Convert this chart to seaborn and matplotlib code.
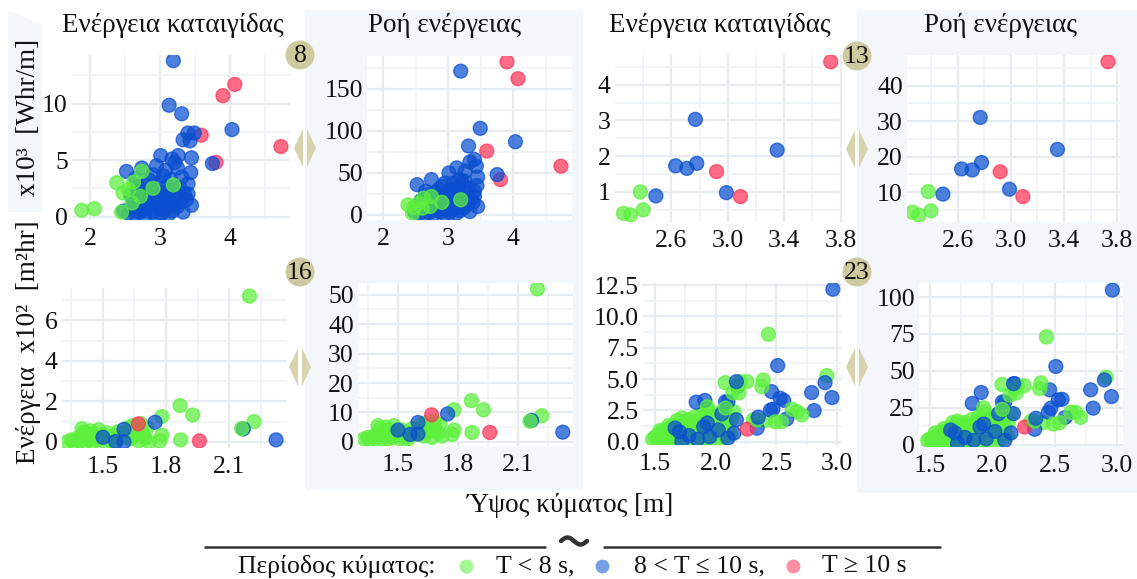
import numpy as np
import pandas as pd
import matplotlib
matplotlib.use("Agg")
import matplotlib.pyplot as plt
import seaborn as sns
from matplotlib.patches import Polygon, Circle, Rectangle
from matplotlib.ticker import FixedLocator, FormatStrFormatter

# ---------------- data ----------------
# station 8 : wave height, storm energy (x10^3), energy flux, period class
hs8 = [3.90, 4.07, 4.73, 3.59, 3.80,
       3.19, 3.13, 3.31, 4.03, 3.75, 3.49, 3.40, 3.33, 3.43, 3.45, 3.26, 3.01, 3.17, 3.21, 2.95,
       2.52, 2.74, 3.44, 3.05, 3.31, 3.40,
       2.48, 2.55, 2.60, 2.62, 2.65, 2.70, 2.72, 2.75, 2.78, 2.80, 2.82, 2.85, 2.88, 2.90, 2.92,
       2.95, 2.97, 3.00, 3.00, 3.02, 3.05, 3.07, 3.10, 3.10, 3.12, 3.15, 3.15, 3.18, 3.20, 3.22,
       3.25, 3.28, 3.30, 3.33, 3.35, 3.38, 3.40, 3.45, 2.68, 2.58, 2.85, 3.08, 2.90, 3.25, 2.65,
       2.78, 2.95, 3.12, 2.70, 3.05, 2.85, 3.20,
       1.88, 2.06, 2.38, 2.47, 2.62, 2.74, 2.90, 3.19, 2.45, 2.60, 2.72, 2.55]
storm8 = [10.7, 11.7, 6.2, 7.2, 4.8,
          13.8, 9.85, 9.1, 7.7, 4.7, 7.4, 7.4, 6.8, 6.7, 5.2, 5.4, 5.4, 5.1, 4.8, 4.5,
          4.0, 4.3, 3.9, 3.6, 3.5, 2.0,
          0.5, 0.3, 0.8, 1.5, 0.2, 1.0, 2.2, 0.5, 1.6, 2.8, 0.9, 1.9, 0.4, 1.3, 2.4,
          0.7, 1.8, 3.0, 1.1, 0.3, 2.1, 1.5, 0.8, 2.7, 1.9, 1.2, 3.3, 0.5, 2.3, 1.6,
          0.9, 2.6, 1.3, 0.4, 2.0, 1.5, 2.9, 1.0, 2.6, 1.9, 3.2, 4.1, 3.7, 4.3, 3.4,
          0.1, 0.1, 0.2, 0.4, 0.6, 1.1, 1.0,
          0.56, 0.70, 3.0, 2.1, 3.05, 4.0, 2.5, 2.8, 0.4, 1.2, 1.8, 2.4]
flux8 = [182, 162, 58, 76, 42,
         171, 56, 82, 87, 48, 103, 66, 63, 58, 45, 52, 50, 42, 40, 38,
         36, 42, 35, 30, 32, 22,
         4, 2, 8, 14, 1, 9, 20, 5, 15, 27, 8, 18, 4, 12, 23,
         6, 17, 29, 10, 3, 21, 14, 8, 26, 18, 12, 31, 5, 22, 16,
         9, 25, 13, 4, 19, 15, 28, 10, 24, 17, 30, 38, 34, 40, 28,
         1, 1, 2, 3, 6, 10, 9,
         np.nan, np.nan, 12, 9, 20, 22, 15, 18, 2, 8, 10, 14]
per8 = list("RRRRR" + "B" * 21 + "B" * 52 + "G" * 12)

# station 13
hs13 = [2.26, 2.31, 2.38, 2.40, 2.49, 2.63, 2.71, 2.77, 2.78, 2.92, 2.99, 3.09, 3.35, 3.73]
storm13 = [0.40, 0.36, 1.00, 0.50, 0.89, 1.73, 1.66, 3.03, 1.80, 1.57, 0.98, 0.87, 2.17, 4.64]
flux13 = [4.3, 3.5, 10.1, 4.7, 9.4, 16.5, 16.2, 31.0, 18.3, 15.7, 10.8, 8.7, 22.0, 46.7]
per13 = list("GGGGBBBBBRBRBR")

# station 16 (storm energy x10^2)
hs16 = [1.33, 1.35, 1.36, 1.38, 1.39, 1.40, 1.41, 1.42, 1.43, 1.44, 1.45, 1.46, 1.47, 1.48,
        1.50, 1.51, 1.52, 1.53, 1.55, 1.57, 1.58, 1.60, 1.62, 1.63, 1.64, 1.65, 1.66, 1.67,
        1.68, 1.69, 1.70, 1.71, 1.72, 1.45, 1.40, 1.55, 1.62,
        1.60, 1.60, 1.50, 1.56,
        2.197, 1.867, 1.927, 1.78, 1.748, 1.668, 2.219, 2.168, 2.16, 2.324, 1.959, 1.87,
        1.78, 1.77]
storm16 = [0.0, 0.1, 0.0, 0.2, 0.05, 0.3, 0.5, 0.0, 0.15, 0.55, 0.0, 0.25, 0.1, 0.6,
           0.35, 0.0, 0.45, 0.1, 0.3, 0.5, 0.2, 0.4, 0.7, 0.15, 0.8, 0.3, 0.6, 0.05,
           0.9, 0.4, 0.2, 0.7, 0.0, 0.4, 0.65, 0.0, 0.25,
           0.62, 0.0, 0.23, 0.02,
           7.19, 1.79, 1.33, 1.25, 0.97, 0.89, 1.0, 0.64, 0.66, 0.1, 0.05, 0.1,
           0.33, 0.05]
flux16 = [1.0, 1.5, 0.8, 2.0, 1.2, 2.5, 4.5, 1.0, 2.0, 5.0, 1.0, 3.0, 1.5, 5.5,
          3.5, 1.0, 4.0, 1.5, 3.0, 4.5, 2.5, 4.0, 6.0, 2.0, 6.5, 3.5, 5.5, 1.5,
          7.0, 4.0, 3.0, 6.0, 2.0, 4.0, 5.5, 1.0, 3.0,
          6.6, 2.7, 4.0, 2.5,
          52.0, 14.0, 10.9, 10.9, 9.5, 9.2, 8.9, 7.3, 7.0, 3.3, 3.2, 3.2,
          4.0, 2.5]
per16 = list("G" * 37 + "BBBB" + "GGGGBRGBGBRG" + "GG")

# station 23
hs23 = [1.48, 1.50, 1.52, 1.53, 1.55, 1.56, 1.57, 1.58, 1.60, 1.60, 1.62, 1.63, 1.64, 1.65,
        1.66, 1.67, 1.68, 1.69, 1.70, 1.71, 1.72, 1.73, 1.74, 1.75, 1.76, 1.77, 1.78, 1.79,
        1.80, 1.81, 1.82, 1.83, 1.84, 1.85, 1.86, 1.87, 1.88, 1.89, 1.90, 1.91, 1.92, 1.93,
        1.94, 1.95, 1.96, 1.97, 1.98, 1.99, 2.00, 2.01, 2.02, 2.03, 2.05, 2.06, 2.08, 2.09,
        2.10, 2.12, 2.13, 2.15, 1.58, 1.62, 1.70, 1.76, 1.81, 1.88, 1.95, 2.05, 1.54, 1.61,
        1.68, 1.72,
        1.665, 1.72, 1.78, 1.85, 1.95, 1.90, 2.10, 1.70, 1.838, 1.91, 1.93, 2.02, 2.05, 2.10,
        2.15, 2.17, 2.18, 2.08,
        1.93, 2.08, 2.077, 2.14, 2.20, 2.18, 2.256, 2.19, 2.31,
        2.965, 2.434, 2.51, 2.915, 2.90, 2.957, 2.79, 2.81, 2.71, 2.67, 2.585, 2.54, 2.53,
        2.56, 2.46, 2.39, 2.38, 2.47, 2.41, 2.34, 2.26, 2.34, 2.17, 2.35, 2.45, 2.63, 2.49]
storm23 = [0.2, 0.4, 0.1, 0.6, 0.3, 0.8, 0.15, 0.5, 1.0, 0.2, 0.7, 0.35, 1.2, 0.1,
           0.9, 0.5, 1.4, 0.25, 0.7, 1.1, 0.4, 1.6, 0.15, 0.9, 1.3, 0.55, 1.8, 0.3,
           1.0, 1.5, 0.6, 2.0, 0.2, 1.2, 0.8, 1.7, 0.4, 2.2, 1.0, 0.6, 1.4, 2.6,
           0.3, 1.8, 0.9, 1.2, 0.5, 2.0, 1.5, 0.7, 1.1, 2.3, 0.4, 1.6, 0.9, 2.1,
           1.3, 0.6, 1.8, 2.4, 0.0, 0.05, 0.0, 0.05, 0.1, 0.0, 0.1, 0.1, 0.9, 1.3,
           1.7, 1.9,
           1.1, 0.0, 0.5, 0.2, 0.4, 1.2, 0.3, 0.8, 3.16, 3.3, 1.5, 0.95, 2.23, 3.2,
           0.7, 1.76, 4.4, 3.2,
           2.8, 2.7, 4.72, 3.9, 4.8, 4.5, 4.8, 3.9, 1.76,
           12.16, 8.57, 6.08, 5.28, 4.72, 3.53, 3.93, 2.49, 2.15, 2.4, 1.83, 1.6, 3.48,
           3.3, 4.0, 4.93, 4.4, 2.6, 1.7, 1.09, 1.01, 1.75, 4.8, 1.97, 2.53, 2.6, 1.6]
flux23 = [3, 4, 2, 5, 3, 7, 2, 5, 9, 3, 6, 4, 10, 2,
          8, 5, 12, 3, 7, 10, 4, 14, 2, 8, 11, 5, 15, 3,
          9, 13, 6, 17, 3, 11, 7, 15, 4, 19, 9, 6, 12, 22,
          3, 16, 8, 11, 5, 18, 13, 6, 10, 20, 4, 14, 8, 18,
          12, 6, 16, 21, 1, 1, 1, 2, 2, 1, 2, 2, 8, 11,
          15, 16,
          10, 1, 5, 3, 4, 12, 3, 8, 28, 35.4, 14, 9, 21.1, 29,
          8, 21.1, 41.4, 29,
          25, 24, 40.8, 33.6, 40, 38, 40, 35, 16,
          104.7, 73, 53, 45.7, 43.9, 32.6, 37.2, 24.8, 18.5, 21.9, 18.5, 15, 30.4,
          30.8, 37.2, 41.9, 38, 24.8, 15, 10.5, 12, 16, 41.4, 18, 22, 22, 14]
per23 = list("G" * 72 + "B" * 18 + "GGGGGGGGG" +
             "BGBGBBBBGGBGB" + "BBGGBGBRGBBBGG")

period_labels = ["T < 8 s", "8 < T ≤ 10 s", "T ≥ 10 s"]
code = {"G": period_labels[0], "B": period_labels[1], "R": period_labels[2]}
panel_titles = ["Ενέργεια καταιγίδας", "Ροή ενέργειας"]
station_ids = ["8", "13", "16", "23"]

GREEN, BLUE, RED = "#5cf03c", "#0a4fd0", "#ff3358"
palette = dict(zip(period_labels, [GREEN, BLUE, RED]))


def frame(hs, storm, flux, per):
    return pd.DataFrame({"hs": hs, "storm": storm, "flux": flux,
                         "period": [code[p] for p in per]})


d8, d13, d16, d23 = (frame(hs8, storm8, flux8, per8), frame(hs13, storm13, flux13, per13),
                     frame(hs16, storm16, flux16, per16), frame(hs23, storm23, flux23, per23))

# ---------------- figure ----------------
sns.set_theme(style="white")
plt.rcParams["font.family"] = ["Liberation Serif", "DejaVu Serif"]
TXT = "#111111"
FS_TICK, FS_TITLE, FS_LEG = 18.5, 19.5, 18.5

W, H = 1137, 579
fig = plt.figure(figsize=(W / 100, H / 100), dpi=100)


def px_axes(x0, y0, x1, y1):
    return fig.add_axes([x0 / W, 1 - y1 / H, (x1 - x0) / W, (y1 - y0) / H])


bg = px_axes(0, 0, W, H)
bg.set_xlim(0, W); bg.set_ylim(H, 0); bg.axis("off"); bg.set_zorder(0)
PANEL = "#f4f7f9"
bg.add_patch(Rectangle((305, 10), 278, 480, color=PANEL, lw=0))
bg.add_patch(Rectangle((857, 10), 280, 483, color=PANEL, lw=0))
bg.add_patch(Polygon([(8, 10), (42, 25), (42, 212), (8, 212)], closed=True, color=PANEL, lw=0))

specs = [
    (d8, "storm", (72, 55, 290, 220), (1.74, 4.86), (-0.3, 14.3), [2, 3, 4], [2.5, 3.5, 4.5],
     [0, 5, 10], [2.5, 7.5, 12.5], "%g", "%g"),
    (d8, "flux", (367, 56, 572, 220), (1.75, 4.90), (-6, 189), [2, 3, 4], [2.5, 3.5, 4.5],
     [0, 50, 100, 150], [25, 75, 125, 175], "%g", "%g"),
    (d13, "storm", (615, 55, 842, 222), (2.20, 3.81), (0.16, 4.83), [2.6, 3.0, 3.4, 3.8],
     [2.4, 2.8, 3.2, 3.6], [1, 2, 3, 4], [0.5, 1.5, 2.5, 3.5, 4.5], "%.1f", "%g"),
    (d13, "flux", (907, 55, 1120, 222), (2.22, 3.82), (1.55, 48.6), [2.6, 3.0, 3.4, 3.8],
     [2.4, 2.8, 3.2, 3.6], [10, 20, 30, 40], [5, 15, 25, 35, 45], "%.1f", "%g"),
    (d16, "storm", (62, 288, 287, 448), (1.305, 2.376), (-0.3, 7.59), [1.5, 1.8, 2.1],
     [1.35, 1.65, 1.95, 2.25], [0, 2, 4, 6], [1, 3, 5, 7], "%.1f", "%g"),
    (d16, "flux", (358, 283, 573, 446), (1.30, 2.375), (-1.4, 54), [1.5, 1.8, 2.1],
     [1.35, 1.65, 1.95, 2.25], [0, 10, 20, 30, 40, 50], [5, 15, 25, 35, 45], "%.1f", "%g"),
    (d23, "storm", (643, 283, 842, 445), (1.40, 3.04), (-0.25, 12.66), [1.5, 2.0, 2.5, 3.0],
     [1.75, 2.25, 2.75], [0, 2.5, 5, 7.5, 10, 12.5], [1.25, 3.75, 6.25, 8.75, 11.25],
     "%.1f", "%.1f"),
    (d23, "flux", (919, 283, 1123, 447), (1.41, 3.05), (-1.5, 109.5), [1.5, 2.0, 2.5, 3.0],
     [1.75, 2.25, 2.75], [0, 25, 50, 75, 100], [12.5, 37.5, 62.5, 87.5], "%.1f", "%g"),
]

for (df, ycol, box, xl, yl, xmaj, xmin, ymaj, ymin, xf, yf) in specs:
    ax = px_axes(*box)
    ax.set_zorder(2)
    ax.set_facecolor("white")
    sns.scatterplot(data=df, x="hs", y=ycol, hue="period", palette=palette,
                    hue_order=period_labels, s=100, alpha=0.72, edgecolor="face",
                    linewidth=1.0, legend=False, ax=ax, zorder=3)
    ax.set_xlim(*xl); ax.set_ylim(*yl)
    ax.xaxis.set_major_locator(FixedLocator(xmaj))
    ax.xaxis.set_minor_locator(FixedLocator(xmin))
    ax.yaxis.set_major_locator(FixedLocator(ymaj))
    ax.yaxis.set_minor_locator(FixedLocator(ymin))
    ax.xaxis.set_major_formatter(FormatStrFormatter(xf))
    ax.yaxis.set_major_formatter(FormatStrFormatter(yf))
    ax.grid(which="major", color="#e6ecf0", lw=1.6)
    ax.grid(which="minor", color="#edf2f5", lw=1.1)
    ax.set_axisbelow(True)
    ax.tick_params(which="both", length=0, labelsize=FS_TICK, labelcolor=TXT)
    ax.tick_params(axis="x", pad=6)
    ax.tick_params(axis="y", pad=3)
    ax.set_xlabel(""); ax.set_ylabel("")
    for s in ax.spines.values():
        s.set_visible(False)

# ---------------- overlay: titles, badges, arrows, labels, legend ----------------
ov = px_axes(0, 0, W, H)
ov.set_xlim(0, W); ov.set_ylim(H, 0); ov.axis("off"); ov.set_zorder(5)
ov.patch.set_alpha(0)

for cx, t in zip([173, 444, 720, 1000], panel_titles * 2):
    ov.text(cx, 25, t, ha="center", va="center", fontsize=FS_TITLE, color=TXT)

BADGE = "#cdcaa0"
for (cx, cy), sid in zip([(300, 55), (857, 56), (300, 272), (857, 272)], station_ids):
    ov.add_patch(Circle((cx, cy), 14.5, color=BADGE, lw=0))
    ov.text(cx, cy + 1, sid, ha="center", va="center", fontsize=FS_TICK, color=TXT)

ARW = "#d6d3ad"
for cx, cy in [(305, 148), (857, 149), (300, 367), (857, 367)]:
    ov.add_patch(Polygon([(cx - 11, cy), (cx - 2, cy - 19), (cx - 2, cy + 19)], color=ARW, lw=0))
    ov.add_patch(Polygon([(cx + 11, cy), (cx + 2, cy - 19), (cx + 2, cy + 19)], color=ARW, lw=0))

ov.text(29, 342, "Ενέργεια  x10²  [m²hr]", rotation=90, ha="center", va="center",
        fontsize=FS_TITLE, color=TXT)
ov.text(29, 117, "x10³  [Whr/m]", rotation=90, ha="center", va="center",
        fontsize=FS_TITLE, color=TXT)
ov.text(570, 505, "Ύψος κύματος [m]", ha="center", va="center", fontsize=FS_TITLE, color=TXT)

# legend: separator lines with a wavy ornament in the gap
ov.plot([205, 545], [547, 547], color="#333333", lw=1.8)
ov.plot([604, 940], [547, 547], color="#333333", lw=1.8)
wt = np.linspace(0, 1, 60)
ov.plot(561 + 26 * wt, 541 - 3.5 * np.sin(2 * np.pi * wt), color="#333333", lw=3.2,
        solid_capstyle="round")
ov.text(238, 566, "Περίοδος κύματος:", ha="left", va="center", fontsize=FS_LEG, color=TXT)
leg = [(466, period_labels[0], 496, "T < 8 s,"),
       (602, period_labels[1], 634, "8 < T ≤ 10 s,"),
       (793, period_labels[2], 822, "T ≥ 10 s")]
for dx, lab, tx, txt in leg:
    ov.scatter([dx], [566], s=100, color=palette[lab], alpha=0.55, lw=0)
    ov.text(tx, 566, txt, ha="left", va="center", fontsize=FS_LEG, color=TXT)

fig.savefig("out.png", dpi=100)
